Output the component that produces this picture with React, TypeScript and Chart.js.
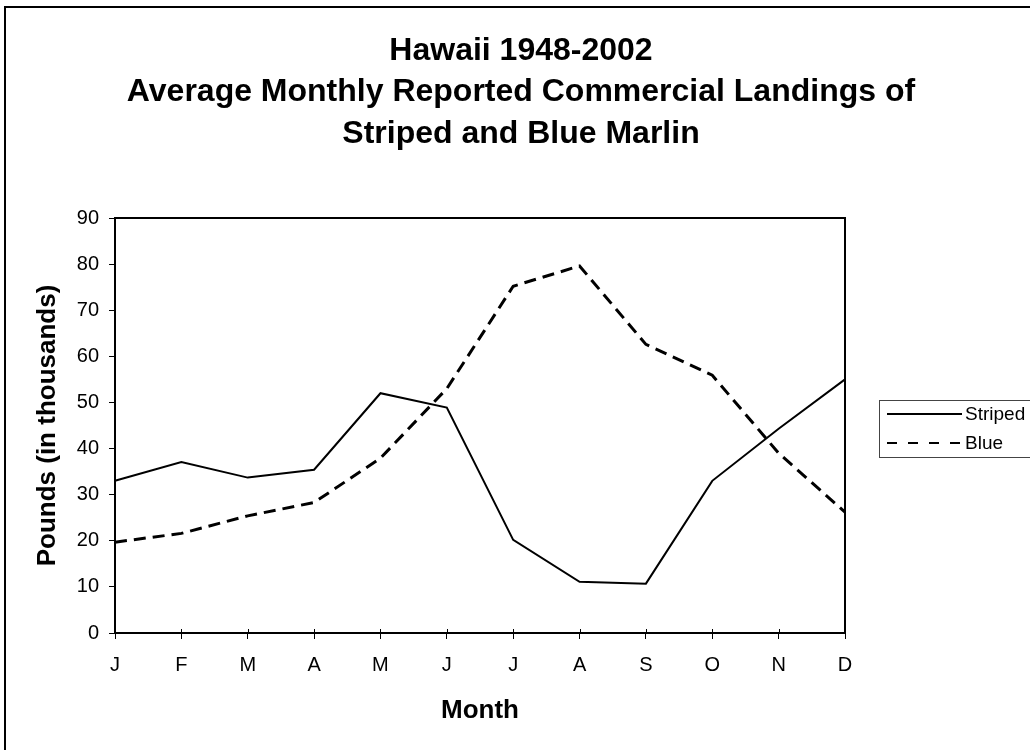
import React, { useEffect, useRef } from "react";
import { Chart, registerables } from "chart.js";

Chart.register(...registerables);

// ---- data ----
const months = ["J", "F", "M", "A", "M", "J", "J", "A", "S", "O", "N", "D"];
const stripedValues = [33.0, 37.1, 33.7, 35.4, 52.0, 48.9, 20.2, 11.1, 10.7, 33.0, 44.3, 55.0];
const blueValues = [19.7, 21.6, 25.4, 28.3, 37.9, 53.0, 75.2, 79.6, 62.6, 55.9, 39.0, 26.2];
const seriesNames = ["Striped", "Blue"];
const titleLines = [
  "Hawaii 1948-2002",
  "Average Monthly Reported Commercial Landings of",
  "Striped and Blue Marlin",
];
const yAxisTitle = "Pounds (in thousands)";
const xAxisTitle = "Month";
const yMin = 0;
const yMax = 90;
const yStep = 10;

const FONT = '"Liberation Sans", Arial, Helvetica, sans-serif';

export default function App() {
  const ref = useRef<HTMLCanvasElement | null>(null);

  useEffect(() => {
    const canvas = ref.current;
    if (!canvas) return;

    const framePlugin = {
      id: "frame",
      beforeDraw(chart: any) {
        const { ctx } = chart;
        ctx.save();
        ctx.fillStyle = "#ffffff";
        ctx.fillRect(0, 0, chart.width, chart.height);
        ctx.strokeStyle = "#000000";
        ctx.lineWidth = 2;
        ctx.strokeRect(5, 7, chart.width + 40, chart.height + 40);
        ctx.restore();
      },
    };

    const plotBoxPlugin = {
      id: "plotBox",
      afterDatasetsDraw(chart: any) {
        const { ctx, chartArea: a } = chart;
        ctx.save();
        ctx.strokeStyle = "#000000";
        ctx.lineWidth = 2;
        ctx.strokeRect(a.left, a.top, a.right - a.left, a.bottom - a.top);
        // category ticks cross the axis slightly into the plot area
        const xs = chart.scales.x;
        ctx.lineWidth = 1;
        ctx.beginPath();
        xs.ticks.forEach((_t: any, i: number) => {
          const px = Math.round(xs.getPixelForTick(i)) + 0.5;
          ctx.moveTo(px, a.bottom - 4);
          ctx.lineTo(px, a.bottom);
        });
        ctx.stroke();
        ctx.restore();
      },
    };

    const boxLegendPlugin = {
      id: "boxLegend",
      afterDraw(chart: any) {
        const { ctx, chartArea: a } = chart;
        const x0 = a.right + 34;
        const y0 = 400;
        const w = 170;
        const h = 57;
        ctx.save();
        ctx.fillStyle = "#ffffff";
        ctx.fillRect(x0, y0, w, h);
        ctx.strokeStyle = "#444444";
        ctx.lineWidth = 1;
        ctx.strokeRect(x0 + 0.5, y0 + 0.5, w, h);
        const rowsY = [y0 + 14, y0 + 43];
        chart.data.datasets.forEach((ds: any, i: number) => {
          const y = rowsY[i];
          ctx.strokeStyle = ds.borderColor;
          ctx.lineWidth = 2;
          ctx.setLineDash(ds.borderDash && ds.borderDash.length ? [10, 11] : []);
          ctx.beginPath();
          ctx.moveTo(x0 + 8, y);
          ctx.lineTo(x0 + 83, y);
          ctx.stroke();
          ctx.setLineDash([]);
          ctx.fillStyle = "#000000";
          ctx.font = `19px ${FONT}`;
          ctx.textAlign = "left";
          ctx.textBaseline = "middle";
          ctx.fillText(ds.label, x0 + 86, y + 1);
        });
        ctx.restore();
      },
    };

    Chart.defaults.font.family = FONT;
    Chart.defaults.color = "#000000";

    const chart = new Chart(canvas, {
      type: "line",
      data: {
        labels: months,
        datasets: [
          {
            label: seriesNames[0],
            data: stripedValues,
            borderColor: "#000000",
            backgroundColor: "#000000",
            borderWidth: 2,
            pointRadius: 0,
            tension: 0,
            fill: false,
          },
          {
            label: seriesNames[1],
            data: blueValues,
            borderColor: "#000000",
            backgroundColor: "#000000",
            borderWidth: 3,
            borderDash: [12, 7],
            pointRadius: 0,
            tension: 0,
            fill: false,
          },
        ],
      },
      options: {
        responsive: false,
        maintainAspectRatio: false,
        animation: false,
        events: [],
        layout: { padding: { left: 12, right: 0, top: 0, bottom: 0 } },
        plugins: {
          legend: { display: false },
          tooltip: { enabled: false },
          title: {
            display: true,
            text: titleLines,
            color: "#000000",
            font: { size: 32, weight: "bold", lineHeight: 41.5 / 32 },
            padding: { top: 30, bottom: 63.5 },
            fullSize: true,
            align: "center",
          },
        },
        scales: {
          x: {
            type: "category",
            position: "bottom",
            offset: false,
            grid: {
              display: true,
              drawOnChartArea: false,
              drawTicks: true,
              tickLength: 6,
              color: "#000000",
              lineWidth: 1,
            },
            border: { display: true, color: "#000000", width: 2 },
            ticks: {
              color: "#000000",
              font: { size: 20 },
              padding: 14,
              maxRotation: 0,
              autoSkip: false,
            },
            title: {
              display: true,
              text: xAxisTitle,
              color: "#000000",
              font: { size: 26, weight: "bold" },
              padding: { top: 0, bottom: 24 },
            },
            afterFit(scale: any) {
              scale.height = 117;
            },
          },
          y: {
            type: "linear",
            position: "left",
            min: yMin,
            max: yMax,
            grid: {
              display: true,
              drawOnChartArea: false,
              drawTicks: true,
              tickLength: 6,
              color: "#000000",
              lineWidth: 1,
            },
            border: { display: true, color: "#000000", width: 2 },
            ticks: {
              stepSize: yStep,
              color: "#000000",
              font: { size: 20 },
              padding: 10,
            },
            title: {
              display: true,
              text: yAxisTitle,
              color: "#000000",
              font: { size: 26, weight: "bold" },
              padding: { top: 20, bottom: 0 },
            },
            afterFit(scale: any) {
              scale.width = 103;
            },
          },
          y2: {
            type: "linear",
            position: "right",
            display: true,
            min: yMin,
            max: yMax,
            grid: { display: false, drawTicks: false },
            border: { display: false },
            ticks: { display: false },
            afterFit(scale: any) {
              scale.width = 185;
            },
          },
        },
      } as any,
      plugins: [framePlugin, plotBoxPlugin, boxLegendPlugin],
    });

    return () => {
      chart.destroy();
    };
  }, []);

  return (
    <div style={{ position: "absolute", left: 0, top: 0, width: 1030, height: 750 }}>
      <canvas ref={ref} width={1030} height={750} style={{ display: "block", width: 1030, height: 750 }} />
    </div>
  );
}
